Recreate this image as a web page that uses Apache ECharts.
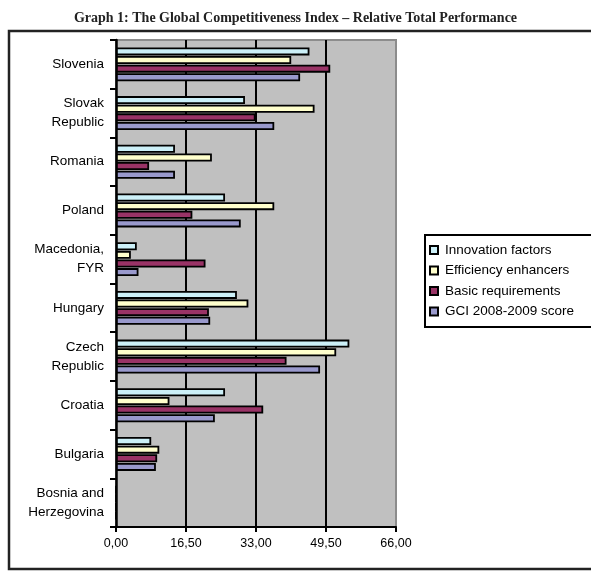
<!DOCTYPE html>
<html>
<head>
<meta charset="utf-8">
<script src="https://cdn.jsdelivr.net/npm/echarts@6/dist/echarts.min.js"></script>
<style>
  html, body { margin: 0; padding: 0; background: #fff; }
  #chart { width: 591px; height: 572px; }
</style>
</head>
<body>
<div id="chart"></div>
<script>
// countries, bottom to top (echarts draws the first category at the bottom)
const countries = [
  'Bosnia and\nHerzegovina', 'Bulgaria', 'Croatia', 'Czech\nRepublic', 'Hungary',
  'Macedonia,\nFYR', 'Poland', 'Romania', 'Slovak\nRepublic', 'Slovenia'
]

const innovation = [0, 8.3, 25.7, 55.0, 28.5, 4.9, 25.7, 13.9, 30.4, 45.6]
const efficiency = [0, 10.2, 12.6, 51.9, 31.2, 3.5, 37.3, 22.6, 46.8, 41.3]
const basic = [0, 9.7, 34.7, 40.2, 21.9, 21.1, 18.0, 7.8, 32.9, 50.5]
const gci = [0, 9.4, 23.3, 48.1, 22.2, 5.3, 29.4, 13.9, 37.3, 43.4]

const chart = echarts.init(document.getElementById('chart'))

// helper for one bar series
const bar = (name, data, color) => ({
  name: name,
  type: 'bar',
  data: data,
  barWidth: 8,
  barGap: '8%',
  barCategoryGap: '26%',
  itemStyle: { color: color, borderColor: '#000', borderWidth: 1.8 }
})

const option = {
  animation: false,
  backgroundColor: '#fff',
  textStyle: { fontFamily: 'Liberation Sans, Arial, sans-serif' },
  title: {
    text: 'Graph 1: The Global Competitiveness Index – Relative Total Performance',
    left: 'center',
    top: 6,
    textStyle: {
      fontFamily: 'Liberation Serif, Times New Roman, serif',
      fontWeight: 'bold',
      fontSize: 14,
      color: '#222'
    }
  },
  graphic: [
    {
      type: 'rect',
      shape: { x: 9, y: 31, width: 620, height: 538 },
      style: { fill: 'none', stroke: '#222', lineWidth: 2.5 },
      z: -1
    },
    {
      type: 'rect',
      shape: { x: 425, y: 235, width: 200, height: 92 },
      style: { fill: 'none', stroke: '#000', lineWidth: 2 }
    }
  ],
  legend: {
    orient: 'vertical',
    left: 424,
    top: 238,
    icon: 'rect',
    itemWidth: 8,
    itemHeight: 8,
    itemGap: 6.5,
    textStyle: { fontSize: 13.5, color: '#000', fontFamily: 'Liberation Sans, Arial, sans-serif', padding: [0, 0, 0, 2] }
  },
  grid: {
    left: 116,
    top: 40,
    width: 280,
    height: 487,
    show: true,
    backgroundColor: '#c0c0c0',
    borderColor: '#8c8c8c',
    borderWidth: 2
  },
  xAxis: {
    type: 'value',
    min: 0,
    max: 66,
    interval: 16.5,
    axisLine: { show: true, lineStyle: { color: '#000', width: 2 } },
    axisTick: { show: true, length: 5, lineStyle: { color: '#000', width: 2 } },
    axisLabel: {
      fontSize: 12.5,
      color: '#000',
      margin: 10,
      formatter: v => v.toFixed(2).replace('.', ',')
    },
    splitLine: { show: true, showMinLine: false, showMaxLine: false, lineStyle: { color: '#000', width: 2 } }
  },
  yAxis: {
    type: 'category',
    data: countries,
    axisLine: { show: true, lineStyle: { color: '#000', width: 2.5 } },
    axisTick: { show: true, length: 6, lineStyle: { color: '#000', width: 2 } },
    axisLabel: { fontSize: 13.5, color: '#000', margin: 12, lineHeight: 19, align: 'right' }
  },
  series: [
    bar('Innovation factors', innovation, '#ccf0f8'),
    bar('Efficiency enhancers', efficiency, '#ffffcc'),
    bar('Basic requirements', basic, '#993366'),
    bar('GCI 2008-2009 score', gci, '#9999cc')
  ]
}

chart.setOption(option)
</script>
</body>
</html>
